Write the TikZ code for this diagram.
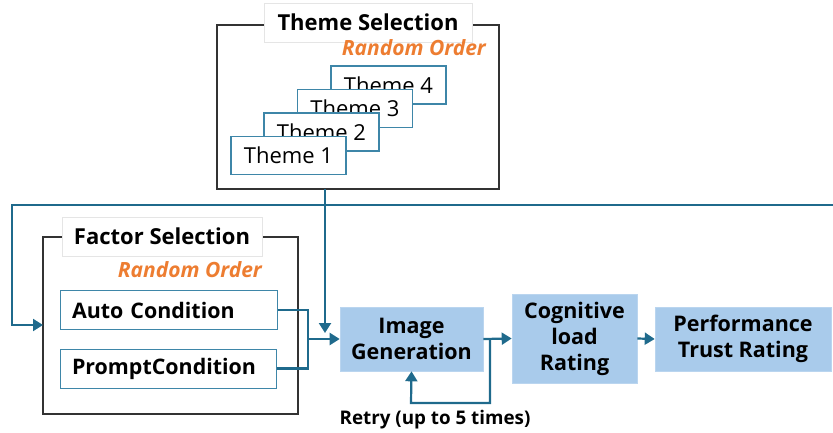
\documentclass[tikz,border=0pt]{standalone}
\usepackage{fontspec}
\setmainfont{Open Sans}
\usetikzlibrary{arrows.meta}
\definecolor{conn}{HTML}{1F6A8C}
\definecolor{procfill}{HTML}{A9CBEB}
\definecolor{orangetxt}{HTML}{ED7D31}
\definecolor{framegray}{HTML}{333333}
\definecolor{themeborder}{HTML}{3E86A8}
\tikzset{
  frame/.style={draw=framegray, line width=1.2pt},
  titlebox/.style={draw=black!10, fill=white, line width=0.6pt, inner sep=0pt, font=\bfseries\fontsize{22}{24}\selectfont},
  randomtxt/.style={inner sep=0pt, text=orangetxt, font=\bfseries\itshape\fontsize{21}{22}\selectfont},
  themebox/.style={draw=themeborder, fill=white, line width=1.2pt, minimum width=115pt, minimum height=38pt, inner sep=0pt, font=\fontsize{22}{24}\selectfont},
  condbox/.style={draw=themeborder, fill=white, line width=1pt, minimum height=39pt, inner sep=0pt, font=\bfseries\fontsize{21.4}{24}\selectfont},
  proc/.style={fill=procfill, draw=procfill!80!white, line width=0.6pt, inner sep=0pt, align=center, font=\bfseries\fontsize{21.5}{26}\selectfont},
  conn/.style={draw=conn, line width=2.2pt},
  arr/.style={conn, -{Triangle[length=10pt,width=12pt]}},
}
\begin{document}
\begin{tikzpicture}[x=1pt,y=-1pt]
\useasboundingbox (0,0) rectangle (833,433);
% Theme selection frame
\draw[frame] (217,25) rectangle (499,189);
\node[titlebox, minimum width=208pt, minimum height=39pt] (tstitle) at (368,22.5) {Theme Selection};
\node[randomtxt, anchor=east] (trand) at (486,48) {Random Order};
\node[themebox] (t4) at (388.5,85) {Theme 4};
\node[themebox] (t3) at (355,108.5) {Theme 3};
\node[themebox] (t2) at (321.5,132) {Theme 2};
\node[themebox] (t1) at (288.5,155.5) {Theme 1};
% Factor selection frame
\draw[frame] (43,237) rectangle (298,414);
\node[titlebox, minimum width=200pt, minimum height=39pt] (fstitle) at (162,236.5) {Factor Selection};
\node[randomtxt, anchor=east] (frand) at (262,270) {Random Order};
\node[condbox, minimum width=217pt, text width=193pt, align=left] (auto) at (168.5,310) {Auto Condition};
\node[condbox, minimum width=216pt, text width=192pt, align=left] (prompt) at (168,368.5) {PromptCondition};
% process boxes
\node[proc, minimum width=143pt, minimum height=64pt] (img) at (411.5,339) {Image\\Generation};
\node[proc, minimum width=125pt, minimum height=89pt] (cog) at (574.5,338.5) {Cognitive\\load\\Rating};
\node[proc, minimum width=176pt, minimum height=64pt] (perf) at (743,339) {Performance\\Trust Rating};
% coordinates
\coordinate (jx) at (308,339);
\coordinate (ts) at (325,189);
\coordinate (edge) at (833,205);
% connectors
\draw[conn] (auto.east) -| (jx);
\draw[conn] (prompt.east) -| (jx);
\draw[arr] (jx) -- (img.west);
\draw[arr] (ts) -- (325,333);
\draw[arr] (edge) -- (12,205) |- (43,325);
\draw[arr] (img.east) -- (cog.west);
\draw[arr] (490,339) |- (411,403) -- (img.south);
\draw[arr] (cog.east) -- (perf.west);
\node[inner sep=0pt, font=\bfseries\fontsize{18.8}{20}\selectfont] (retry) at (435,420) {Retry (up to 5 times)};
\end{tikzpicture}
\end{document}
